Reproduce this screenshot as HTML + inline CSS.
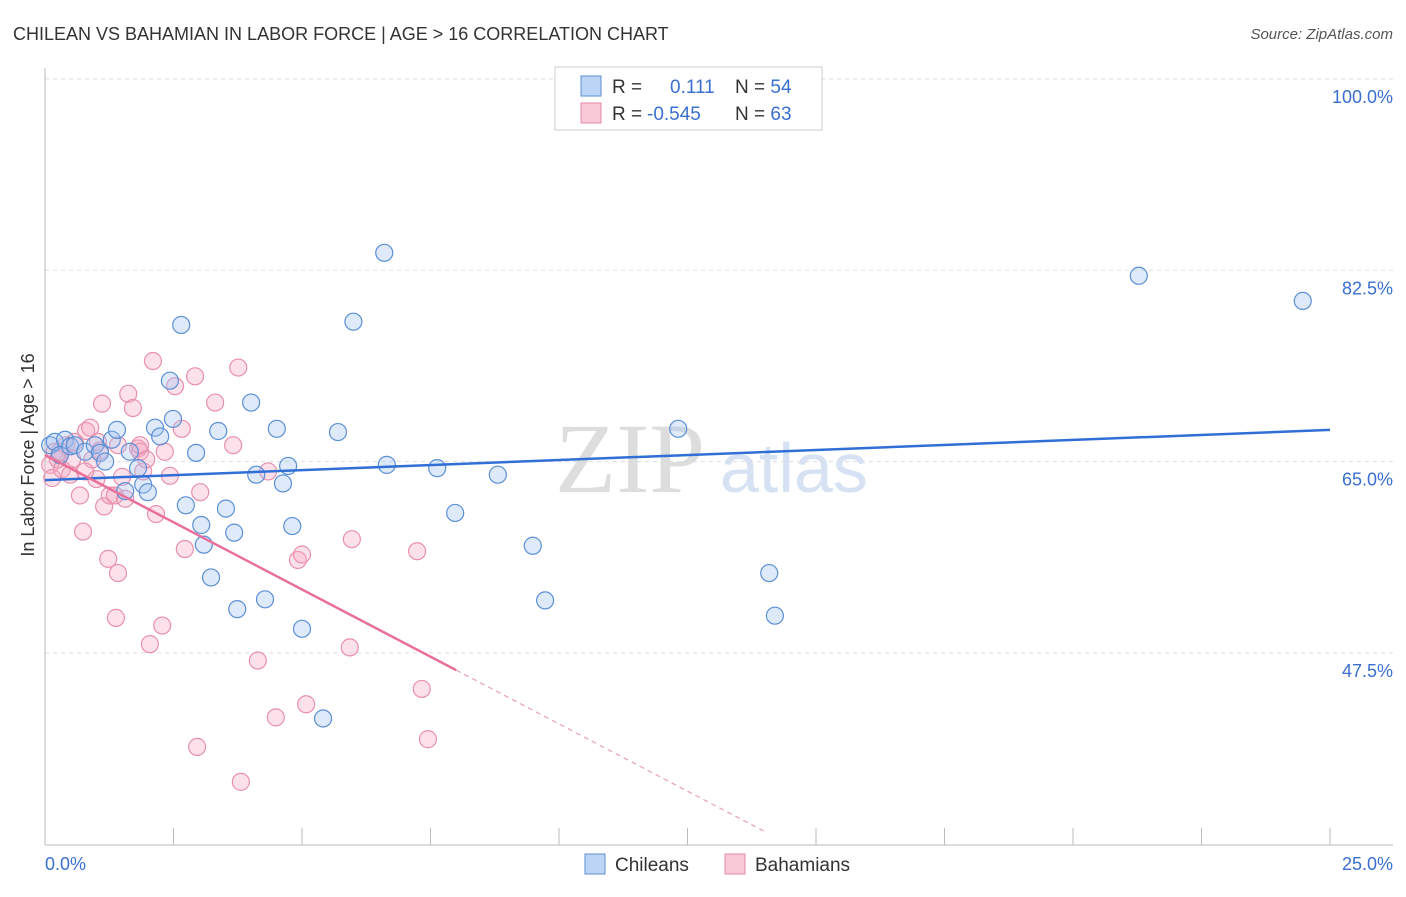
<!DOCTYPE html>
<html><head><meta charset="utf-8"><style>
body{margin:0;background:#fff;font-family:"Liberation Sans",sans-serif}
</style></head><body>
<svg id="chart" width="1406" height="892" xmlns="http://www.w3.org/2000/svg" font-family="Liberation Sans, sans-serif">
<text x="13" y="40" font-size="18" fill="#333">CHILEAN VS BAHAMIAN IN LABOR FORCE | AGE &gt; 16 CORRELATION CHART</text>
<text x="1393" y="39" font-size="15" fill="#555" text-anchor="end" font-style="italic">Source: ZipAtlas.com</text>
<text x="555" y="492" font-size="100" fill="#ddd" font-family="Liberation Serif, serif">ZIP</text>
<text x="720" y="492" font-size="70" fill="#d6e2f4">atlas</text>
<g id="grid"></g><g id="axes"></g><g id="pts"></g><g id="lines"></g>
<text transform="translate(34,455) rotate(-90)" font-size="18" fill="#333" text-anchor="middle">In Labor Force | Age &gt; 16</text>
<text x="45" y="870" font-size="18" fill="#3a6fd0">0.0%</text>
<text x="1393" y="870" font-size="18" fill="#3a6fd0" text-anchor="end">25.0%</text>
<g>
<rect x="555" y="67" width="267" height="63" fill="#fff" stroke="#ccc"/>
<rect x="581" y="76" width="20" height="20" fill="#bcd4f5" stroke="#5b8fd6"/>
<rect x="581" y="103" width="20" height="20" fill="#f9c9d7" stroke="#e58aa8"/>
<text x="612" y="93" font-size="19" fill="#333">R = <tspan fill="#3a6fd0" x="670">0.111</tspan><tspan x="735">N = </tspan><tspan fill="#3a6fd0">54</tspan></text>
<text x="612" y="120" font-size="19" fill="#333">R = <tspan fill="#3a6fd0" x="647">-0.545</tspan><tspan x="735">N = </tspan><tspan fill="#3a6fd0">63</tspan></text>
</g>
<g>
<rect x="585" y="854" width="20" height="20" fill="#bcd4f5" stroke="#5b8fd6"/>
<text x="615" y="871" font-size="19" fill="#333">Chileans</text>
<rect x="725" y="854" width="20" height="20" fill="#f9c9d7" stroke="#e58aa8"/>
<text x="755" y="871" font-size="19" fill="#333">Bahamians</text>
</g>
</svg>
<script>
const yTicks=[100,82.5,65,47.5];
const xTicks=[0,2.5,5,7.5,10,12.5,15,17.5,20,22.5,25];
const blueX=[0.1,0.19,0.29,0.39,0.49,0.58,0.78,0.97,1.07,1.17,1.3,1.4,1.56,1.65,1.81,1.91,2.0,2.14,2.24,2.43,2.49,2.65,2.74,2.94,3.04,3.09,3.23,3.37,3.52,3.68,3.74,4.01,4.11,4.28,4.51,4.63,4.73,4.81,5.0,5.41,5.7,6.0,6.6,6.65,7.63,7.98,8.81,9.49,9.73,12.32,14.09,14.2,21.28,24.47];
const blueY=[66.5,66.8,65.6,67.0,66.4,66.5,65.9,66.5,65.8,65.0,67.0,67.9,62.3,65.9,64.4,62.9,62.2,68.1,67.3,72.4,68.9,77.5,61.0,65.8,59.2,57.4,54.4,67.8,60.7,58.5,51.5,70.4,63.8,52.4,68.0,63.0,64.6,59.1,49.7,41.5,67.7,77.8,84.1,64.7,64.4,60.3,63.8,57.3,52.3,68.0,54.8,50.9,82.0,79.7];
const pinkX=[0.1,0.14,0.19,0.25,0.33,0.41,0.49,0.58,0.68,0.74,0.8,0.88,0.92,1.0,1.03,1.11,1.15,1.23,1.26,1.36,1.42,1.38,1.5,1.56,1.62,1.71,1.81,1.85,1.91,1.97,2.04,2.1,2.16,2.28,2.33,2.43,2.53,2.66,2.72,2.92,2.96,3.02,3.31,3.66,3.76,3.81,4.14,4.34,4.49,4.92,5.0,5.08,5.93,5.97,7.24,7.33,7.45,1.42,1.07,0.29,1.85,0.53,0.78];
const pinkY=[64.7,63.5,65.9,65.2,64.3,66.5,63.8,66.8,61.9,58.6,67.8,68.1,65.2,63.4,66.8,70.3,60.9,56.1,61.9,61.9,54.8,50.7,63.6,61.6,71.2,69.9,66.2,65.9,64.1,65.2,48.3,74.2,60.2,50.0,65.9,63.7,71.9,68.0,57.0,72.8,38.9,62.2,70.4,66.5,73.6,35.7,46.8,64.1,41.6,56.0,56.5,42.8,48.0,57.9,56.8,44.2,39.6,66.5,66.0,65.9,66.5,65.2,64.1];
const blueLine=[63.3,67.9];
const pinkLine=[65.6,-2.46];
const NS="http://www.w3.org/2000/svg";
const X=v=>45+v*51.4, Y=v=>79+(100-v)*10.931;
function mk(t,a,p){const e=document.createElementNS(NS,t);for(const k in a)e.setAttribute(k,a[k]);p.appendChild(e);return e;}
const grid=document.getElementById('grid'),axes=document.getElementById('axes'),pts=document.getElementById('pts'),lines=document.getElementById('lines');
yTicks.forEach(v=>{
 const l=mk('line',{x1:45,x2:1393,y1:Y(v),y2:Y(v),stroke:'#ddd','stroke-dasharray':'4,4'},grid);
 
 
 const t=mk('text',{x:1393,y:Y(v)+24,'font-size':18,fill:'#3a6fd0','text-anchor':'end'},grid);
 t.textContent=v.toFixed(1)+'%';
 
 
});
const ax=mk('line',{x1:45,x2:45,y1:68,y2:845,stroke:'#bbb'},axes);


const bx=mk('line',{x1:45,x2:1393,y1:845,y2:845,stroke:'#bbb'},axes);


xTicks.forEach(v=>{
 const t=mk('line',{x1:X(v),x2:X(v),y1:828,y2:845,stroke:'#bbb'},axes);
 
 
});
pinkX.forEach((x,i)=>{
 const c=mk('circle',{cx:X(x),cy:Y(pinkY[i]),r:8.5,fill:'rgba(245,170,195,0.35)',stroke:'#e890ad','stroke-width':1.2},pts);
 
 
});
blueX.forEach((x,i)=>{
 const c=mk('circle',{cx:X(x),cy:Y(blueY[i]),r:8.5,fill:'rgba(160,195,240,0.35)',stroke:'#5b8fd6','stroke-width':1.2},pts);
 
 
});
const b=mk('line',{x1:X(0),y1:Y(blueLine[0]),x2:X(25),y2:Y(blueLine[1]),stroke:'#2f6fd6','stroke-width':2.5},lines);


const pf=x=>pinkLine[0]+pinkLine[1]*x;
const p1=mk('line',{x1:X(0),y1:Y(pf(0)),x2:X(8),y2:Y(pf(8)),stroke:'#e8709a','stroke-width':2.5},lines);


const p2=mk('line',{x1:X(8),y1:Y(pf(8)),x2:X(14),y2:Y(pf(14)),stroke:'#e8a0b8','stroke-width':1.2,'stroke-dasharray':'5,4'},lines);


</script>
</body></html>
